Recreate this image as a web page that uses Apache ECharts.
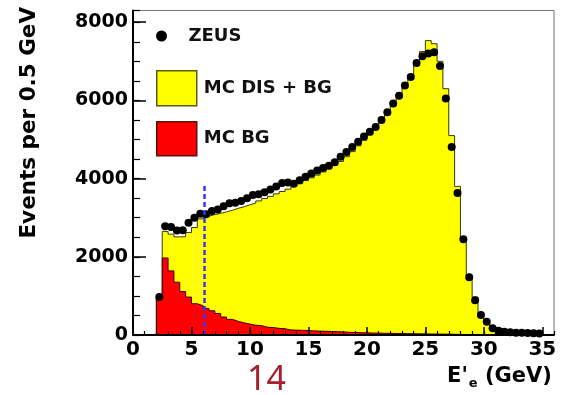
<!DOCTYPE html>
<html><head><meta charset="utf-8">
<script src="https://cdn.jsdelivr.net/npm/echarts@6/dist/echarts.min.js"></script>
<style>html,body{margin:0;padding:0;background:#fff}#c{width:568px;height:395px}</style>
</head><body><div id="c"></div>
<script>
// ---- data (0.5 GeV bins starting at 2.0 GeV) ----
const binStart = 2.0;
const binWidth = 0.5;
const mcTotal = [
  950, 2650, 2580, 2510, 2510, 2620, 2750, 2970, 3040, 3080, 3110, 3150, 3190, 3240, 3280, 3330,
  3375, 3430, 3490, 3545, 3610, 3670, 3730, 3800, 3870, 3950, 4020, 4090, 4170, 4250, 4340, 4440, 4560, 4690, 4840, 4980,
  5120, 5270, 5430, 5630, 5860, 6060, 6320, 6600, 6980, 7250, 7530, 7450, 7000, 6300, 5100, 3800, 2450, 1520, 970, 565,
  295, 167, 100, 60, 40, 30, 20, 15, 10, 8
];
const mcBg = [
  950, 1970, 1640, 1350, 1110, 970, 800, 750, 680, 620, 550, 460, 400, 350, 310, 280,
  250, 240, 200, 190, 170, 160, 130, 125, 120, 115, 105, 100, 95, 90, 85, 80, 70, 65, 60, 55,
  50, 48, 45, 42, 40, 38, 35, 33, 30, 28, 26, 24, 22, 20, 18, 15, 12, 10, 8, 6,
  5, 4, 3, 2, 2, 1, 1, 1, 0, 0
];
const zeusData = [
  970, 2780, 2760, 2670, 2680, 2870, 3000, 3100, 3090, 3170, 3210, 3290, 3370, 3380, 3430, 3500,
  3580, 3600, 3650, 3720, 3800, 3890, 3900, 3870, 3960, 4050, 4130, 4210, 4270, 4330, 4420, 4560, 4680, 4810, 4940, 5080,
  5200, 5320, 5500, 5700, 5920, 6120, 6380, 6600, 6960, 7130, 7200, 7230, 6880, 6050, 4810, 3630, 2450, 1480, 890, 510,
  340, 170, 110, 80, 70, 60, 55, 50, 45, 40
];
const cutEnergy = 6.1;
const cutLineTop = 3880;
const xRange = [0, 36];
const yRange = [0, 8300];

// ---- build histogram step outlines from the arrays ----
const edges = mcTotal.map((_, i) => binStart + i * binWidth);
const endEdge = binStart + mcTotal.length * binWidth;
function stepPoints(vals) {
  const pts = [[binStart, 0]];
  vals.forEach((v, i) => pts.push([edges[i], v]));
  pts.push([endEdge, 0]);
  return pts;
}
const centers = edges.map(e => e + binWidth / 2);
const zeusPoints = zeusData.map((v, i) => [centers[i], v]);

const FONT = 'DejaVu Sans';
const plain = v => String(v);
const chart = echarts.init(document.getElementById('c'), null, {renderer: 'canvas'});
chart.setOption({
  animation: false,
  backgroundColor: '#fff',
  grid: {left: 133, right: 14, top: 10.5, bottom: 57, show: true, borderColor: '#777', borderWidth: 1, backgroundColor: 'transparent'},
  legend: [
    {data: [{name: 'ZEUS', icon: 'circle', itemStyle: {color: '#000', borderWidth: 0}}], left: 156, top: 27, padding: 0, itemWidth: 40, itemHeight: 11,
     selectedMode: false, textStyle: {fontFamily: FONT, fontWeight: 'bold', fontSize: 18, color: '#111', padding: [0, 0, 0, 2]}},
    {data: [{name: 'MC DIS + BG', icon: 'rect', itemStyle: {color: '#ffff00', borderColor: '#5a5a10', borderWidth: 1.5}}],
     left: 156, top: 70, padding: 0, itemWidth: 40, itemHeight: 35,
     selectedMode: false, textStyle: {fontFamily: FONT, fontWeight: 'bold', fontSize: 18, color: '#111', padding: [0, 0, 0, 2]}},
    {data: [{name: 'MC BG', icon: 'rect', itemStyle: {color: '#ff0000', borderColor: '#5a1010', borderWidth: 1.5}}],
     left: 156, top: 121, padding: 0, itemWidth: 40, itemHeight: 34,
     selectedMode: false, textStyle: {fontFamily: FONT, fontWeight: 'bold', fontSize: 18, color: '#111', padding: [0, 0, 0, 2]}}
  ],
  xAxis: [
    {type: 'value', min: xRange[0], max: xRange[1], interval: 5, z: 10,
     axisLine: {show: true, onZero: false, lineStyle: {color: '#000', width: 2}},
     axisTick: {show: true, inside: true, length: 8, lineStyle: {color: '#000', width: 1.5}},
     splitLine: {show: false},
     axisLabel: {color: '#000', fontFamily: FONT, fontWeight: 'bold', fontSize: 20, margin: 5, showMaxLabel: false, formatter: plain},
     name: "{a|E'}{s|e}{a| (GeV)}", nameLocation: 'middle', nameGap: 31,
     nameTextStyle: {padding: [0, 0, 0, 312],
       rich: {a: {fontFamily: FONT, fontWeight: 'bold', fontSize: 21, color: '#000', lineHeight: 24, verticalAlign: 'top'},
              s: {fontFamily: FONT, fontWeight: 'bold', fontSize: 13, color: '#000', lineHeight: 14, padding: [11, 0, 0, 1], verticalAlign: 'top'}}}},
    {type: 'value', min: xRange[0], max: xRange[1], interval: 1, z: 10, position: 'bottom',
     axisLine: {show: false}, axisLabel: {show: false}, splitLine: {show: false},
     axisTick: {show: true, inside: true, length: 4, lineStyle: {color: '#000', width: 1.2}}}
  ],
  yAxis: [
    {type: 'value', min: yRange[0], max: yRange[1], interval: 2000, z: 10,
     axisLine: {show: true, onZero: false, lineStyle: {color: '#000', width: 2}},
     axisTick: {show: true, inside: true, length: 13, lineStyle: {color: '#000', width: 1.5}},
     splitLine: {show: false},
     axisLabel: {color: '#000', fontFamily: FONT, fontWeight: 'bold', fontSize: 19, margin: 5, showMaxLabel: false, formatter: plain},
     name: 'Events per 0.5 GeV', nameLocation: 'middle', nameRotate: 90, nameGap: 93,
     nameTextStyle: {fontFamily: FONT, fontWeight: 'bold', fontSize: 21.5, color: '#000', padding: [0, 0, 0, 100]}},
    {type: 'value', min: yRange[0], max: yRange[1], interval: 500, z: 10, position: 'left',
     axisLine: {show: false}, axisLabel: {show: false}, splitLine: {show: false},
     axisTick: {show: true, inside: true, length: 7, lineStyle: {color: '#000', width: 1.2}}}
  ],
  series: [
    {name: 'MC DIS + BG', type: 'line', step: 'end', data: stepPoints(mcTotal), symbol: 'none',
     xAxisIndex: 0, yAxisIndex: 0, z: 2,
     itemStyle: {color: '#ffff00'},
     lineStyle: {color: '#3a3a00', width: 1},
     areaStyle: {color: '#ffff00', opacity: 1}},
    {name: 'MC BG', type: 'line', step: 'end', data: stepPoints(mcBg), symbol: 'none',
     xAxisIndex: 0, yAxisIndex: 0, z: 3,
     itemStyle: {color: '#ff0000'},
     lineStyle: {color: '#3a0000', width: 1},
     areaStyle: {color: '#ff0000', opacity: 1}},
    {name: 'ZEUS', type: 'scatter', data: zeusPoints, symbol: 'circle', symbolSize: 8,
     xAxisIndex: 0, yAxisIndex: 0, z: 5,
     itemStyle: {color: '#000', opacity: 1},
     markLine: {symbol: 'none', silent: true, label: {show: false}, z: 6,
       lineStyle: {color: '#3535ff', type: [5, 3], width: 2.5},
       data: [[{coord: [cutEnergy, 0]}, {coord: [cutEnergy, cutLineTop]}]]}}
  ],
  graphic: [
    {type: 'text', x: 266.5, y: 380.5, z: 20,
     style: {text: '14', fontFamily: 'Noto Sans', fontSize: 34, fill: '#a4202c', align: 'center', verticalAlign: 'middle'}}
  ]
});
</script>
</body></html>
